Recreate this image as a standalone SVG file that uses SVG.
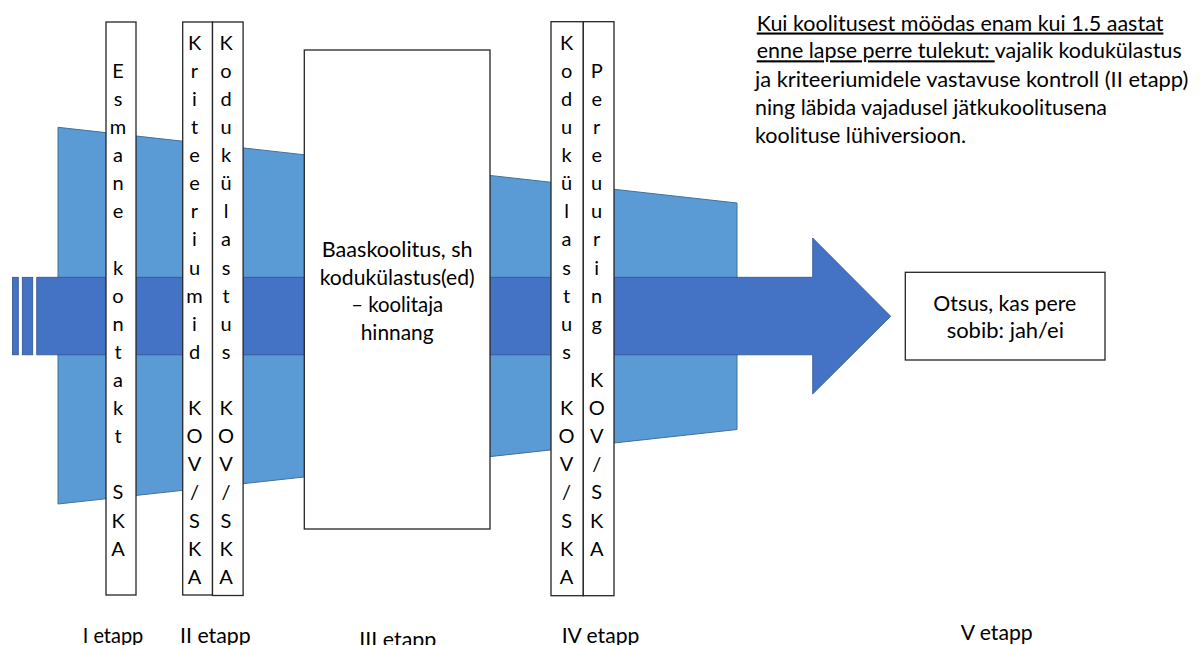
<svg xmlns="http://www.w3.org/2000/svg" width="1200" height="645" viewBox="0 0 1200 645">
<style>
.t{font-family:Lato,"Open Sans","Liberation Sans",sans-serif;font-size:21px;fill:#000}
.v{font-family:Lato,"Open Sans","Liberation Sans",sans-serif;font-size:20px;fill:#000;text-anchor:middle}
.m{text-anchor:middle}
.box{fill:#fff;stroke:#262626;stroke-width:1.3}
.u{text-decoration:underline}
</style>
<rect width="1200" height="645" fill="#fff"/>
<g id="background-funnel">
<polygon points="58,127.3 737,203 737,429.5 58,504" fill="#5B9BD5" stroke="#41719C" stroke-width="1"/>
</g>
<g id="connectors">
<rect x="12.5" y="277.3" width="5.8" height="77.5" fill="#4472C4" stroke="#2F528F" stroke-width="0.8"/>
<rect x="22.3" y="277.3" width="10.4" height="77.5" fill="#4472C4" stroke="#2F528F" stroke-width="0.8"/>
<polygon points="36.7,277.3 812.7,277.3 812.7,238 890.7,316.3 812.7,394 812.7,354.8 36.7,354.8" fill="#4472C4" stroke="#2F528F" stroke-width="0.8"/>
</g>
<g id="node-esmane-kontakt">
<rect class="box" x="106" y="22" width="30" height="573"/>
<text class="v"><tspan x="118" y="77.6">E</tspan><tspan x="118" y="105.7">s</tspan><tspan x="118" y="133.9">m</tspan><tspan x="118" y="162">a</tspan><tspan x="118" y="190.1">n</tspan><tspan x="118" y="218.2">e</tspan><tspan x="118" y="246.3"> </tspan><tspan x="118" y="274.5">k</tspan><tspan x="118" y="302.6">o</tspan><tspan x="118" y="330.7">n</tspan><tspan x="118" y="358.8">t</tspan><tspan x="118" y="386.9">a</tspan><tspan x="118" y="415.1">k</tspan><tspan x="118" y="443.2">t</tspan><tspan x="118" y="471.3"> </tspan><tspan x="118" y="499.4">S</tspan><tspan x="118" y="527.5">K</tspan><tspan x="118" y="555.7">A</tspan></text>
</g>
<g id="node-kriteeriumid">
<rect class="box" x="182.7" y="22" width="29.8" height="573"/>
<text class="v"><tspan x="194.5" y="49.5">K</tspan><tspan x="194.5" y="77.6">r</tspan><tspan x="194.5" y="105.7">i</tspan><tspan x="194.5" y="133.9">t</tspan><tspan x="194.5" y="162">e</tspan><tspan x="194.5" y="190.1">e</tspan><tspan x="194.5" y="218.2">r</tspan><tspan x="194.5" y="246.3">i</tspan><tspan x="194.5" y="274.5">u</tspan><tspan x="194.5" y="302.6">m</tspan><tspan x="194.5" y="330.7">i</tspan><tspan x="194.5" y="358.8">d</tspan><tspan x="194.5" y="386.9"> </tspan><tspan x="194.5" y="415.1">K</tspan><tspan x="194.5" y="443.2">O</tspan><tspan x="194.5" y="471.3">V</tspan><tspan x="194.5" y="499.4">/</tspan><tspan x="194.5" y="527.5">S</tspan><tspan x="194.5" y="555.7">K</tspan><tspan x="194.5" y="583.8">A</tspan></text>
</g>
<g id="node-kodukulastus-2">
<rect class="box" x="212.5" y="22" width="30.6" height="573.5"/>
<text class="v"><tspan x="226" y="49.5">K</tspan><tspan x="226" y="77.6">o</tspan><tspan x="226" y="105.7">d</tspan><tspan x="226" y="133.9">u</tspan><tspan x="226" y="162">k</tspan><tspan x="226" y="190.1">ü</tspan><tspan x="226" y="218.2">l</tspan><tspan x="226" y="246.3">a</tspan><tspan x="226" y="274.5">s</tspan><tspan x="226" y="302.6">t</tspan><tspan x="226" y="330.7">u</tspan><tspan x="226" y="358.8">s</tspan><tspan x="226" y="386.9"> </tspan><tspan x="226" y="415.1">K</tspan><tspan x="226" y="443.2">O</tspan><tspan x="226" y="471.3">V</tspan><tspan x="226" y="499.4">/</tspan><tspan x="226" y="527.5">S</tspan><tspan x="226" y="555.7">K</tspan><tspan x="226" y="583.8">A</tspan></text>
</g>
<g id="node-baaskoolitus">
<rect class="box" x="304.3" y="50" width="185.7" height="479"/>
<text class="t m"><tspan x="397.2" y="257" textLength="151" lengthAdjust="spacingAndGlyphs">Baaskoolitus, sh</tspan></text>
<text class="t m"><tspan x="397.2" y="284.8" textLength="155" lengthAdjust="spacingAndGlyphs">kodukülastus(ed)</tspan></text>
<text class="t m"><tspan x="397.2" y="312.4" textLength="92" lengthAdjust="spacingAndGlyphs">– koolitaja</tspan></text>
<text class="t m"><tspan x="397.2" y="339.8" textLength="73" lengthAdjust="spacingAndGlyphs">hinnang</tspan></text>
</g>
<g id="node-kodukulastus-4">
<rect class="box" x="551" y="21.7" width="32.3" height="574"/>
<text class="v"><tspan x="566.6" y="49.5">K</tspan><tspan x="566.6" y="77.6">o</tspan><tspan x="566.6" y="105.7">d</tspan><tspan x="566.6" y="133.9">u</tspan><tspan x="566.6" y="162">k</tspan><tspan x="566.6" y="190.1">ü</tspan><tspan x="566.6" y="218.2">l</tspan><tspan x="566.6" y="246.3">a</tspan><tspan x="566.6" y="274.5">s</tspan><tspan x="566.6" y="302.6">t</tspan><tspan x="566.6" y="330.7">u</tspan><tspan x="566.6" y="358.8">s</tspan><tspan x="566.6" y="386.9"> </tspan><tspan x="566.6" y="415.1">K</tspan><tspan x="566.6" y="443.2">O</tspan><tspan x="566.6" y="471.3">V</tspan><tspan x="566.6" y="499.4">/</tspan><tspan x="566.6" y="527.5">S</tspan><tspan x="566.6" y="555.7">K</tspan><tspan x="566.6" y="583.8">A</tspan></text>
</g>
<g id="node-pereuuring">
<rect class="box" x="583.3" y="21.7" width="30.7" height="574"/>
<text class="v"><tspan x="596.7" y="77.6">P</tspan><tspan x="596.7" y="105.7">e</tspan><tspan x="596.7" y="133.9">r</tspan><tspan x="596.7" y="162">e</tspan><tspan x="596.7" y="190.1">u</tspan><tspan x="596.7" y="218.2">u</tspan><tspan x="596.7" y="246.3">r</tspan><tspan x="596.7" y="274.5">i</tspan><tspan x="596.7" y="302.6">n</tspan><tspan x="596.7" y="330.7">g</tspan><tspan x="596.7" y="358.8"> </tspan><tspan x="596.7" y="386.9">K</tspan><tspan x="596.7" y="415.1">O</tspan><tspan x="596.7" y="443.2">V</tspan><tspan x="596.7" y="471.3">/</tspan><tspan x="596.7" y="499.4">S</tspan><tspan x="596.7" y="527.5">K</tspan><tspan x="596.7" y="555.7">A</tspan></text>
</g>
<g id="node-otsus">
<rect class="box" x="905.3" y="272.3" width="199.7" height="87.7"/>
<text class="t m"><tspan x="1004.8" y="310.7" textLength="143" lengthAdjust="spacingAndGlyphs">Otsus, kas pere</tspan></text>
<text class="t m"><tspan x="1005.3" y="338.3" textLength="117.3" lengthAdjust="spacingAndGlyphs">sobib: jah/ei</tspan></text>
</g>
<g id="note">
<text class="t" x="756.7" y="30.5" textLength="406.7" lengthAdjust="spacingAndGlyphs"><tspan class="u">Kui koolitusest möödas enam kui 1.5 aastat</tspan></text>
<text class="t" x="756.7" y="58.3" textLength="425" lengthAdjust="spacingAndGlyphs"><tspan class="u">enne lapse perre tulekut: </tspan>vajalik kodukülastus</text>
<text class="t" x="755" y="86.5" textLength="433.3" lengthAdjust="spacingAndGlyphs">ja kriteeriumidele vastavuse kontroll (II etapp)</text>
<text class="t" x="755" y="114.5" textLength="352" lengthAdjust="spacingAndGlyphs">ning läbida vajadusel jätkukoolitusena</text>
<text class="t" x="755" y="142.5" textLength="211" lengthAdjust="spacingAndGlyphs">koolituse lühiversioon.</text>
</g>
<g id="stage-labels">
<text class="t" x="82.7" y="643.3" textLength="60.6" lengthAdjust="spacingAndGlyphs">I etapp</text>
<text class="t" x="180" y="643.3" textLength="70.7" lengthAdjust="spacingAndGlyphs">II etapp</text>
<text class="t" x="359.3" y="647" textLength="77" lengthAdjust="spacingAndGlyphs">III etapp</text>
<text class="t" x="561.7" y="643.3" textLength="77.6" lengthAdjust="spacingAndGlyphs">IV etapp</text>
<text class="t" x="960.7" y="640" textLength="72" lengthAdjust="spacingAndGlyphs">V etapp</text>
</g>
</svg>
